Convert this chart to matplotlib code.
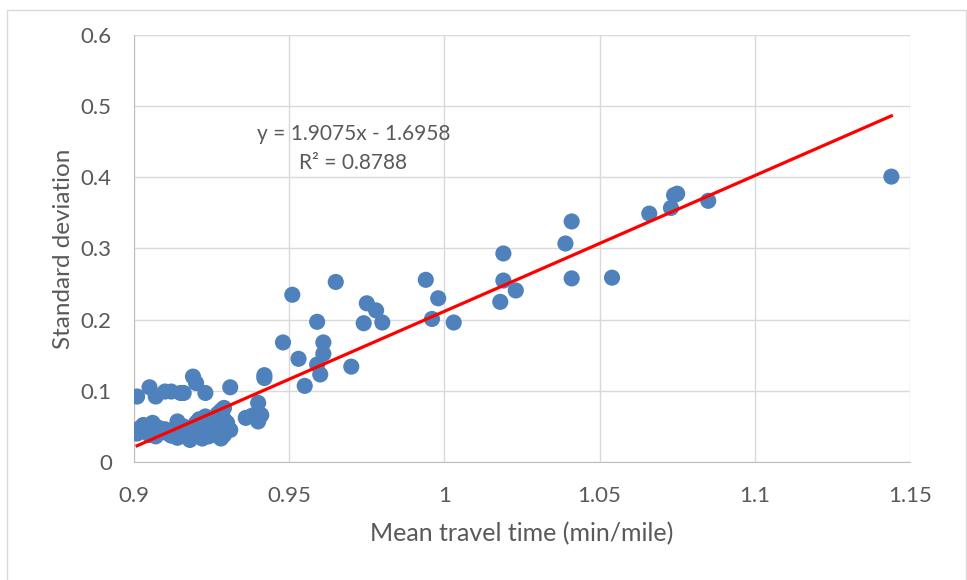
import numpy as np
import matplotlib
matplotlib.use('Agg')
import matplotlib.pyplot as plt
from matplotlib.patches import Rectangle

plt.rcParams['font.family'] = ['Lato', 'DejaVu Sans']

# mean travel time (min/mile) and standard deviation
mean_time = [
    # lower cluster
    0.901, 0.902, 0.903, 0.904, 0.905, 0.906, 0.906, 0.907, 0.908, 0.909,
    0.910, 0.911, 0.912, 0.913, 0.914, 0.914, 0.915, 0.916, 0.917, 0.918,
    0.918, 0.919, 0.920, 0.920, 0.921, 0.922, 0.922, 0.923, 0.923, 0.924,
    0.924, 0.925, 0.926, 0.926, 0.927, 0.927, 0.928, 0.928, 0.928, 0.929,
    0.929, 0.929, 0.930, 0.931,
    # upper row of the cluster
    0.901, 0.905, 0.907, 0.910, 0.912, 0.915, 0.916, 0.919, 0.920, 0.923,
    0.931,
    # around 0.94
    0.936, 0.938, 0.940, 0.941, 0.940, 0.942, 0.942,
    # middle
    0.948, 0.951, 0.953, 0.955, 0.959, 0.959, 0.960, 0.961, 0.961, 0.965,
    0.970, 0.974, 0.975, 0.978, 0.980,
    0.994, 0.996, 0.998, 1.003, 1.018, 1.019, 1.019, 1.023,
    1.039, 1.041, 1.041, 1.054, 1.066, 1.073, 1.074, 1.075, 1.085, 1.144,
]
std_dev = [
    0.040, 0.048, 0.052, 0.044, 0.038, 0.055, 0.045, 0.036, 0.048, 0.042,
    0.046, 0.040, 0.037, 0.044, 0.057, 0.034, 0.045, 0.050, 0.040, 0.031,
    0.046, 0.038, 0.055, 0.042, 0.060, 0.048, 0.033, 0.064, 0.040, 0.052,
    0.036, 0.045, 0.058, 0.038, 0.068, 0.050, 0.072, 0.042, 0.033, 0.076,
    0.060, 0.038, 0.055, 0.045,
    0.092, 0.105, 0.092, 0.099, 0.099, 0.097, 0.097, 0.120, 0.111, 0.097,
    0.105,
    0.062, 0.065, 0.057, 0.066, 0.083, 0.122, 0.118,
    0.168, 0.235, 0.145, 0.107, 0.197, 0.137, 0.123, 0.168, 0.152, 0.253,
    0.134, 0.195, 0.223, 0.213, 0.196,
    0.256, 0.201, 0.230, 0.196, 0.225, 0.293, 0.255, 0.241,
    0.307, 0.338, 0.258, 0.259, 0.349, 0.357, 0.375, 0.377, 0.367, 0.401,
]

slope, intercept = 1.9075, -1.6958
eq_text = 'y = 1.9075x - 1.6958'
r2_text = 'R² = 0.8788'

fig = plt.figure(figsize=(9.67, 5.80), dpi=100)
fig.patches.append(Rectangle((7 / 967, -0.01), 959 / 967, 1.0 - 4 / 580, transform=fig.transFigure,
                             fill=False, edgecolor='#d9d9d9', lw=1))
ax = fig.add_axes([134 / 967, 118 / 580, 776 / 967, 427 / 580])

ax.scatter(mean_time, std_dev, s=135, color='#4f81bd', edgecolors='none', zorder=3)

xs = np.array([min(mean_time), max(mean_time)])
ax.plot(xs, slope * xs + intercept, color='#ff0000', lw=2.3, zorder=4)

ax.set_xlim(0.9, 1.15)
ax.set_ylim(0, 0.6)
ax.set_xticks([0.9, 0.95, 1.0, 1.05, 1.1, 1.15])
ax.set_xticklabels(['0.9', '0.95', '1', '1.05', '1.1', '1.15'])
ax.set_yticks([0, 0.1, 0.2, 0.3, 0.4, 0.5, 0.6])
ax.set_yticklabels(['0', '0.1', '0.2', '0.3', '0.4', '0.5', '0.6'])
ax.tick_params(length=0, labelsize=16, labelcolor='#595959')
ax.tick_params(axis='y', pad=16)
ax.tick_params(axis='x', pad=17)
ax.grid(True, color='#d9d9d9', lw=1)
ax.set_axisbelow(True)
for s in ['top', 'right']:
    ax.spines[s].set_visible(False)
for s in ['left', 'bottom']:
    ax.spines[s].set_color('#bfbfbf')

ax.set_xlabel('Mean travel time (min/mile)', fontsize=18, color='#595959', labelpad=12)
ax.set_ylabel('Standard deviation', fontsize=17.5, color='#595959', labelpad=5)

ax.text(0.9707, 0.461, eq_text, fontsize=15, color='#595959', ha='center', va='center')
ax.text(0.9707, 0.420, r2_text, fontsize=15, color='#595959', ha='center', va='center')

fig.savefig('out.png', dpi=100)
